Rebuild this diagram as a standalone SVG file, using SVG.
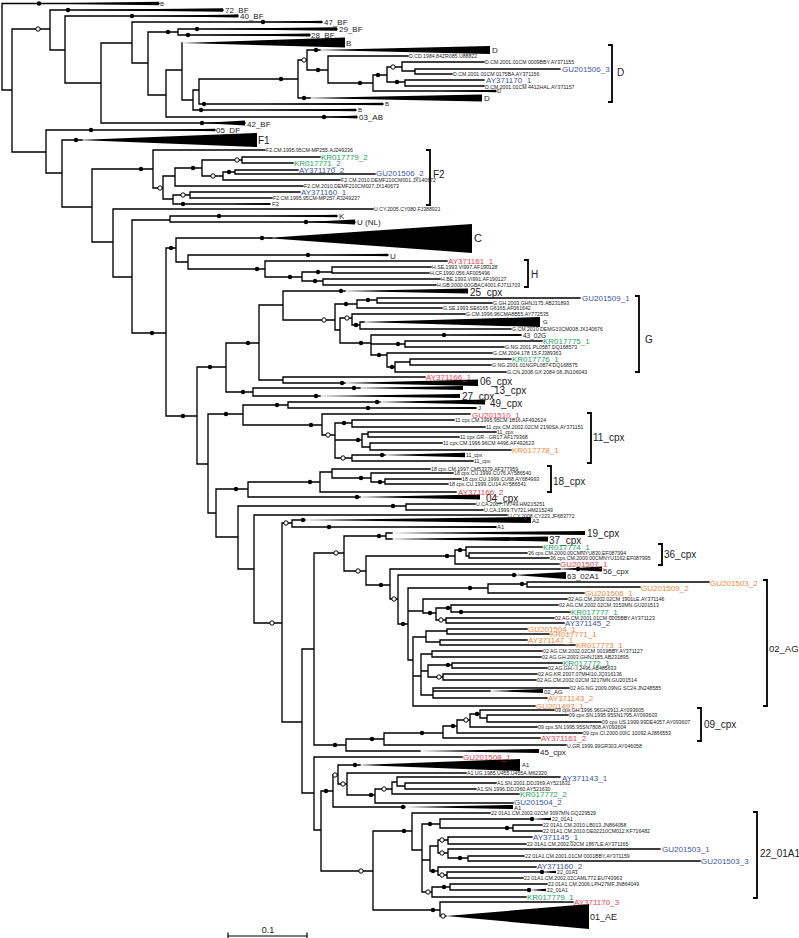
<svg xmlns="http://www.w3.org/2000/svg" width="799" height="938" viewBox="0 0 799 938">
<style>
text{font-family:"Liberation Sans",Arial,sans-serif;dominant-baseline:central;fill:#222}
.t{font-size:5.2px}
.x{font-size:6px}
.s{font-size:8px}
.m{font-size:10px}
.c{font-size:8px}
.b{fill:#3d55a8}.g{fill:#22a35b}.r{fill:#e8424e}.o{fill:#f0883a}
.ln{fill:none;stroke:#000;stroke-width:1.35;stroke-linecap:square}
.br{fill:none;stroke:#000;stroke-width:1.8}
.w{fill:#000}
.f{fill:#000}
.e{fill:#fff;stroke:#000;stroke-width:1}
.lab{opacity:0.999}
</style>
<rect width="799" height="938" fill="#fff"/>
<g id="connectors">
<path class="ln" d="M2 3.5V90M2 3.5H159M2 90H12
M12 29V152M12 29H50M12 152H46
M50 10V50M50 10H223M50 50H65
M65 16V83M65 16H238M65 83H101
M101 43V123M101 43H132M101 123H245
M132 22V63M132 22H322M132 63H148
M148 32V95M148 32H178M148 95H166
M178 29V35M178 29H337M178 35H310
M166 70V117M166 70H182M166 117H357
M182 43V100M182 100H193
M193 90V110M193 90H199M193 110H356
M199 79V104M199 79H298M199 104H383
M298 60V98M298 60H307M298 98H310
M307 50V70M307 50H320M307 70H328
M328 56V83M328 56H408M328 83H373
M373 75V91M373 75H387M373 91H496
M387 67V82M387 67H402M387 82H405
M402 62V71M402 62H484M402 71H415
M415 69V74M415 69H560M415 74H452
M405 80V86M405 80H484M405 86H484
M46 130V173M46 130H215M46 173H62
M62 140V207M62 140H82M62 207H92
M92 169V242M92 169H153M92 242H113
M153 150V188M153 150H265M153 188H163
M163 176V199M163 176H175M163 199H173
M175 168V186M175 168H202M175 186H303
M202 160V176M202 160H242M202 176H223
M242 157V163M242 157H320M242 163H293
M223 172V180M223 172H235M223 180H340
M235 170V174M235 170H298M235 174H375
M173 195V204M173 195H190M173 204H270
M190 192V198M190 192H300M190 198H272
M113 209V277M113 209H373M113 277H132
M132 220V333M132 220H170M132 333H166
M170 216V222M170 216H337M170 222H355
M166 248V416M166 248H176M166 416H197
M176 238V262M176 238H272M176 262H188
M188 255V269M188 255H388M188 269H265
M265 261V277M265 261H447M265 277H302
M302 272V281M302 272H332M302 281H323
M332 267V273M332 267H431M332 273H429
M323 279V285M323 279H440M323 285H436
M197 367V464M197 367H226M197 464H208
M226 343V392M226 343H259M226 392H253
M259 305V380M259 305H283M259 380H283
M283 291V320M283 291H345M283 320H335
M335 304V330M335 304H357M335 330H340
M357 300V308M357 300H377M357 308H442
M377 298V303M377 298H580M377 303H492
M340 318V343M340 318H352M340 343H371
M352 314V325M352 314H465M352 325H360
M360 322V329M360 322H364M360 329H511
M371 335V355M371 335H521M371 344H405M371 355H387
M405 341V347M405 341H542M405 347H504
M387 353V367M387 353H492M387 367H395
M395 362V372M395 362H410M395 372H506
M410 359V365M410 359H511M410 365H491
M283 377V383M283 377H425M283 383H345
M253 388V396M253 388H360M253 396H320
M208 414V513M208 414H243M208 513H216
M243 405V425M243 405H288M243 425H322
M288 402V408M288 402H380M288 408H476
M322 414V435M322 414H470M322 435H335
M335 423V458M335 423H352M335 440H362M335 458H352
M352 420V427M352 420H454M352 427H485
M362 434V447M362 434H368M362 447H370
M368 432V437M368 432H496M368 437H459
M370 443V450M370 443H442M370 450H511
M352 455V461M352 455H385M352 461H473
M216 489V537M216 489H248M216 537H238
M248 482V497M248 482H320M248 497H360
M320 472V492M320 472H332M320 492H456
M332 469V478M332 469H430M332 478H371
M371 473V482M371 473H453M371 482H385
M385 479V484M385 479H461M385 484H448
M238 506V569M238 506H406M238 569H254
M406 504V510M406 504H475M406 510H483
M254 515V623M254 515H507M254 623H282
M282 523V722M282 523H292M282 722H302
M292 520V527M292 520H305M292 527H496
M302 649V793M302 649H314M302 793H314
M314 553V745M314 553H344M314 745H346
M344 536V571M344 536H386M344 571H366
M386 533V539M386 533H392M386 539H392
M366 556V585M366 556H455M366 585H390
M455 550V564M455 550H466M455 564H559
M466 547V556M466 547H542M466 556H469
M469 553V558M469 553H527M469 558H549
M390 569V599M390 569H560M390 599H398
M398 575V624M398 575H516M398 624H408
M408 588V660M408 588H488M408 611H423M408 660H413
M488 584V593M488 584H527M488 593H584
M527 582V587M527 582H709M527 587H640
M423 599V613M423 599H567M423 613H436
M436 608V620M436 608H451M436 620H446
M451 605V612M451 605H558M451 612H570
M446 618V623M446 618H554M446 623H564
M413 637V706M413 637H426M413 676H421M413 706H535
M426 631V642M426 631H447M426 642H440
M447 629V634M447 629H527M447 634H549
M440 640V645M440 640H527M440 645H575
M421 654V695M421 654H432M421 671H428M421 695H433
M432 651V657M432 651H542M432 657H541
M428 665V677M428 665H452M428 677H443
M452 663V668M452 663H562M452 668H547
M443 674V680M443 674H537M443 680H536
M433 688V698M433 688H569M433 691H490M433 698H547
M346 739V751M346 739H384M346 751H420
M384 733V745M384 733H443M384 745H566
M443 726V738M443 726H457M443 738H540
M457 720V733M457 720H470M457 733H582
M470 714V727M470 714H480M470 727H537
M480 710V718M480 710H554M480 718H487
M487 715V722M487 715H568M487 722H601
M314 757V830M314 757H462M314 830H321
M321 791V871M321 791H333M321 871H373
M333 775V807M333 775H338M333 807H405
M338 765V784M338 765H360M338 784H347
M347 773V795M347 773H466M347 795H375
M375 789V803M375 789H392M375 803H513
M392 782V794M392 782H397M392 794H519
M397 777V786M397 777H560M397 786H405
M405 783V789M405 783H496M405 789H476
M373 831V910M373 831H412M373 910H440
M412 813V850M412 813H490M412 850H422
M422 824V892M422 824H440M422 860H430M422 892H432
M440 819V828M440 819H530M440 828H513
M513 825V831M513 825H542M513 831H542
M430 846V871M430 846H438M430 871H438
M438 840V853M438 840H448M438 853H448
M448 837V844M448 837H532M448 844H526
M448 849V858M448 849H660M448 858H468
M468 856V861M468 856H524M468 861H700
M438 867V875M438 867H536M438 875H447
M447 872V878M447 872H540M447 878H523
M432 887V897M432 887H450M432 897H526
M450 884V890M450 884H547M450 890H530
M440 902V916M440 902H573M440 916H446"/>
<g class="w">
<polygon points="40,3.5 159,1.8 159,5.2"/>
<polygon points="70,10 223,8.3 223,11.7"/>
<polygon points="140,16 238,14.5 238,17.5"/>
<polygon points="265,22 322,20.8 322,23.2"/>
<polygon points="200,29 337,27.2 337,30.8"/>
<polygon points="190,35 310,33.5 310,36.5"/>
<polygon points="182,43 345,37.5 345,47.5"/>
<polygon points="316,50 490,46 490,54"/>
<polygon points="440,91 496,89.8 496,92.2"/>
<polygon points="304,98 482,94.5 482,101.5"/>
<polygon points="260,104 383,102.8 383,105.2"/>
<polygon points="250,110 356,108.8 356,111.2"/>
<polygon points="324,117 357,115.5 357,118.5"/>
<polygon points="202,123 245,120.5 245,125.5"/>
<polygon points="150,130 215,128.8 215,131.2"/>
<polygon points="78,140 257,133 257,147"/>
<polygon points="230,204 270,203 270,205"/>
<polygon points="260,216 337,214.8 337,217.2"/>
<polygon points="306,222 355,219.5 355,224.5"/>
<polygon points="266,238 472,224 472,253"/>
<polygon points="320,255 388,253.8 388,256.2"/>
<polygon points="341,291 468,288.5 468,293.5"/>
<polygon points="360,322 540,317 540,327"/>
<polygon points="450,335 521,334 521,336"/>
<polygon points="342,383 478,379.5 478,386"/>
<polygon points="354,388 463,386 463,390"/>
<polygon points="316,396 460,394 460,398"/>
<polygon points="377,402 485,399.5 485,404.5"/>
<polygon points="400,408 476,407 476,409"/>
<polygon points="382,455 465,452.8 465,457.2"/>
<polygon points="357,497 480,494.5 480,499.5"/>
<polygon points="303,520 531,517 531,523"/>
<polygon points="400,527 496,526 496,528"/>
<polygon points="390,533 585,531 585,535"/>
<polygon points="390,539 548,536.5 548,541.5"/>
<polygon points="557,569 602,566.5 602,571.5"/>
<polygon points="514,575 566,572 566,579"/>
<polygon points="490,691 543,689 543,693"/>
<polygon points="420,751 539,749 539,753"/>
<polygon points="358,765 520,759 520,771"/>
<polygon points="405,807 513,805 513,809"/>
<polygon points="530,819 551,817.8 551,820.2"/>
<polygon points="540,872 556,870.8 556,873.2"/>
<polygon points="530,890 546,888.8 546,891.2"/>
<polygon points="446,916 589,904 589,929"/>
</g>
<g id="support-filled" class="f">
<circle cx="39" cy="3.5" r="2.2"/><circle cx="68" cy="10" r="2.2"/><circle cx="132" cy="16" r="2.2"/><circle cx="263" cy="22" r="2.2"/><circle cx="168" cy="32" r="2.2"/><circle cx="197" cy="29" r="2.2"/><circle cx="188" cy="35" r="2.2"/><circle cx="202" cy="123" r="2.2"/><circle cx="324" cy="117" r="2.2"/><circle cx="201" cy="110" r="2.2"/><circle cx="204" cy="104" r="2.2"/><circle cx="281" cy="79" r="2.2"/><circle cx="304" cy="98" r="2.2"/><circle cx="316" cy="50" r="2.2"/><circle cx="318" cy="70" r="2.2"/><circle cx="360" cy="83" r="2.2"/><circle cx="378" cy="75" r="2.2"/><circle cx="397" cy="82" r="2.2"/>
<circle cx="91" cy="130" r="2.2"/><circle cx="76" cy="140" r="2.2"/><circle cx="141" cy="169" r="2.2"/><circle cx="193" cy="168" r="2.2"/><circle cx="229" cy="172" r="2.2"/><circle cx="183" cy="204" r="2.2"/><circle cx="219" cy="216" r="2.2"/><circle cx="306" cy="222" r="2.2"/><circle cx="152" cy="333" r="2.2"/><circle cx="171" cy="248" r="2.2"/><circle cx="183" cy="416" r="2.2"/><circle cx="262" cy="238" r="2.2"/><circle cx="308" cy="255" r="2.2"/><circle cx="257" cy="269" r="2.2"/><circle cx="290" cy="277" r="2.2"/><circle cx="318" cy="272" r="2.2"/><circle cx="315" cy="281" r="2.2"/>
<circle cx="210" cy="367" r="2.2"/><circle cx="248" cy="343" r="2.2"/><circle cx="243" cy="392" r="2.2"/><circle cx="341" cy="291" r="2.2"/><circle cx="346" cy="304" r="2.2"/><circle cx="368" cy="300" r="2.2"/><circle cx="356" cy="325" r="2.2"/><circle cx="361" cy="343" r="2.2"/><circle cx="444" cy="335" r="2.2"/><circle cx="398" cy="344" r="2.2"/><circle cx="379" cy="355" r="2.2"/><circle cx="392" cy="367" r="2.2"/><circle cx="342" cy="383" r="2.2"/><circle cx="354" cy="388" r="2.2"/><circle cx="316" cy="396" r="2.2"/>
<circle cx="226" cy="414" r="2.2"/><circle cx="277" cy="405" r="2.2"/><circle cx="311" cy="425" r="2.2"/><circle cx="377" cy="402" r="2.2"/><circle cx="368" cy="408" r="2.2"/><circle cx="344" cy="423" r="2.2"/><circle cx="358" cy="440" r="2.2"/><circle cx="382" cy="455" r="2.2"/><circle cx="236" cy="489" r="2.2"/><circle cx="310" cy="482" r="2.2"/><circle cx="357" cy="497" r="2.2"/><circle cx="361" cy="478" r="2.2"/><circle cx="380" cy="482" r="2.2"/><circle cx="393" cy="506" r="2.2"/><circle cx="303" cy="520" r="2.2"/><circle cx="329" cy="527" r="2.2"/>
<circle cx="379" cy="536" r="2.2"/><circle cx="447" cy="556" r="2.2"/><circle cx="460" cy="550" r="2.2"/><circle cx="381" cy="585" r="2.2"/><circle cx="578" cy="569" r="2.2"/><circle cx="514" cy="575" r="2.2"/><circle cx="403" cy="624" r="2.2"/><circle cx="470" cy="588" r="2.2"/><circle cx="522" cy="584" r="2.2"/><circle cx="430" cy="613" r="2.2"/><circle cx="448" cy="608" r="2.2"/><circle cx="461" cy="612" r="2.2"/><circle cx="448" cy="665" r="2.2"/>
<circle cx="335" cy="745" r="2.2"/><circle cx="372" cy="739" r="2.2"/><circle cx="422" cy="733" r="2.2"/><circle cx="453" cy="726" r="2.2"/><circle cx="477" cy="714" r="2.2"/><circle cx="326" cy="791" r="2.2"/><circle cx="403" cy="807" r="2.2"/><circle cx="355" cy="765" r="2.2"/><circle cx="371" cy="795" r="2.2"/><circle cx="404" cy="831" r="2.2"/><circle cx="433" cy="910" r="2.2"/><circle cx="430" cy="824" r="2.2"/><circle cx="532" cy="819" r="2.2"/><circle cx="507" cy="828" r="2.2"/><circle cx="460" cy="858" r="2.2"/><circle cx="433" cy="871" r="2.2"/><circle cx="542" cy="872" r="2.2"/><circle cx="444" cy="887" r="2.2"/><circle cx="529" cy="890" r="2.2"/>
</g>
<g id="support-open" class="e">
<circle cx="38" cy="29" r="2.2"/><circle cx="304" cy="60" r="2.2"/><circle cx="393" cy="67" r="2.2"/><circle cx="160" cy="188" r="2.2"/><circle cx="237" cy="160" r="2.2"/><circle cx="213" cy="176" r="2.2"/><circle cx="183" cy="195" r="2.2"/><circle cx="324" cy="320" r="2.2"/><circle cx="347" cy="318" r="2.2"/><circle cx="328" cy="435" r="2.2"/><circle cx="343" cy="458" r="2.2"/><circle cx="272" cy="623" r="2.2"/><circle cx="286" cy="523" r="2.2"/><circle cx="336" cy="553" r="2.2"/><circle cx="358" cy="571" r="2.2"/><circle cx="394" cy="599" r="2.2"/><circle cx="441" cy="620" r="2.2"/><circle cx="439" cy="677" r="2.2"/><circle cx="466" cy="720" r="2.2"/><circle cx="361" cy="871" r="2.2"/><circle cx="335" cy="775" r="2.2"/><circle cx="343" cy="784" r="2.2"/><circle cx="384" cy="789" r="2.2"/><circle cx="428" cy="892" r="2.2"/><circle cx="442" cy="840" r="2.2"/><circle cx="442" cy="853" r="2.2"/><circle cx="442" cy="875" r="2.2"/><circle cx="443" cy="916" r="2.2"/>
</g>
<path class="br" d="M608 45H612V102H608M426 150H430V205H426M524 260H528V287H524M635 296H639V372H635M587 413H591V463H587M547 466H551V492H547M658 544H662V565H658M763 580H767V706H763M697 708H701V741H697M753 812H757V898H753"/>
</g>
<g class="lab">
<g id="clade-BF">
<text class="x" x="160" y="4">B</text>
<text class="s" x="225" y="10">72_BF</text>
<text class="s" x="240" y="16">40_BF</text>
<text class="s" x="324" y="22">47_BF</text>
<text class="s" x="339" y="29">29_BF</text>
<text class="s" x="311" y="35">28_BF</text>
<text class="s" x="346" y="43">B</text>
<text class="x" x="385" y="104">B</text>
<text class="x" x="358" y="110">B</text>
<text class="s" x="359" y="117">03_AB</text>
<text class="s" x="247" y="124">42_BF</text>
<text class="s" x="216" y="130">05_DF</text>
</g>
<g id="clade-D">
<text class="s" x="492" y="50">D</text>
<text class="t" x="409" y="56">D.CD.1984.84ZR085.U88822</text>
<text class="t" x="485" y="62">D.CM.2001.01CM 0009BBY.AY371155</text>
<text class="c b" x="562" y="69">GU201506_3</text>
<text class="t" x="453" y="74">D.CM.2001.01CM 0175BA.AY371156</text>
<text class="c b" x="486" y="80">AY371170_1</text>
<text class="t" x="485" y="87">D.CM.2001.01CM 4412HAL.AY371157</text>
<text class="x" x="497" y="91">D</text>
<text class="s" x="484" y="98">D</text>
<text class="m" x="617" y="72">D</text>
</g>
<g id="clade-F">
<text class="m" x="258" y="140">F1</text>
<text class="t" x="266" y="150">F2.CM.1995.95CM-MP255.AJ249236</text>
<text class="c g" x="321" y="157">KR017779_2</text>
<text class="c g" x="294" y="163">KR017771_2</text>
<text class="c b" x="299" y="170">AY371170_2</text>
<text class="c b" x="376" y="173">GU201506_2</text>
<text class="t" x="341" y="180">F2.CM.2010.DEMF210CM001.JX140672</text>
<text class="t" x="304" y="186">F2.CM.2010.DEMF210CM007.JX140673</text>
<text class="c b" x="301" y="192">AY371160_1</text>
<text class="t" x="273" y="198">F2.CM.1995.95CM-MP257.AJ249237</text>
<text class="x" x="272" y="204">F2</text>
<text class="m" x="433" y="174">F2</text>
</g>
<g id="clade-KUC">
<text class="t" x="374" y="209">U.CY.2005.CY080.FJ388921</text>
<text class="s" x="339" y="216">K</text>
<text class="s" x="357" y="222">U (NL)</text>
<text class="m" x="474" y="238" style="font-size:11px">C</text>
<text class="s" x="390" y="256">U</text>
</g>
<g id="clade-H">
<text class="c r" x="448" y="261">AY371161_1</text>
<text class="t" x="432" y="267">H.SE.1993.VI997.AF190128</text>
<text class="t" x="430" y="273">H.CF.1990.056.AF005496</text>
<text class="t" x="441" y="279">H.BE.1993.VI991.AF190127</text>
<text class="t" x="437" y="285">H.GB.2000.00GBAC4001.FJ711703</text>
<text class="m" x="531" y="274">H</text>
<text class="m" x="470" y="292">25_cpx</text>
</g>
<g id="clade-G">
<text class="c b" x="582" y="298">GU201509_1</text>
<text class="t" x="493" y="303">G.GH.2003.GHNJ175.AB231893</text>
<text class="t" x="443" y="308">G.SE.1993.SE6165 G6165.AF061642</text>
<text class="t" x="466" y="314">G.CM.1996.96CMA8B55.AY772535</text>
<text class="x" x="543" y="322">G</text>
<text class="t" x="512" y="329">G.CM.2010.DEMG10CM008.JX140676</text>
<text class="x" x="523" y="335" style="font-size:6.5px">43_02G</text>
<text class="c g" x="543" y="341">KR017775_1</text>
<text class="t" x="505" y="347">G.NG.2001.PL0587.DQ168573</text>
<text class="t" x="493" y="353">G.CM.2004.178 15.FJ389363</text>
<text class="c g" x="512" y="359">KR017776_1</text>
<text class="t" x="492" y="365">G.NG.2001.01NGPL0874.DQ168575</text>
<text class="t" x="507" y="372">G.CN.2008.GX 2084 08.JN106043</text>
<text class="m" x="645" y="339">G</text>
</g>
<g id="clade-cpx1">
<text class="c r" x="426" y="377">AY371166_1</text>
<text class="m" x="480" y="381">06_cpx</text>
<text class="m" x="494" y="390">13_cpx</text>
<text class="m" x="462" y="396">27_cpx</text>
<text class="m" x="490" y="403">49_cpx</text>
<text class="x" x="478" y="408">J</text>
</g>
<g id="clade-11cpx">
<text class="c r" x="472" y="415">GU201510_1</text>
<text class="t" x="455" y="420">11 cpx.CM.1995.95CM 1816.AF492624</text>
<text class="t" x="486" y="427">11 cpx.CM.2002.02CM 2190SA.AY371151</text>
<text class="t" x="497" y="432">11_cpx</text>
<text class="t" x="460" y="437">11 cpx.GR.-.GR17.AF179368</text>
<text class="t" x="443" y="443">11 cpx.CM.1996.96CM 4496.AF492623</text>
<text class="c o" x="512" y="450">KR017778_1</text>
<text class="t" x="466" y="455">11_cpx</text>
<text class="t" x="474" y="461">11_cpx</text>
<text class="m" x="593" y="437">11_cpx</text>
</g>
<g id="clade-18cpx">
<text class="t" x="431" y="469">18 cpx.CM.1997.CM53379.AF377959</text>
<text class="t" x="454" y="473">18 cpx.CU.1999.CU76.AY586540</text>
<text class="t" x="462" y="479">18 cpx.CU.1999.CU68.AY684993</text>
<text class="t" x="449" y="484">18 cpx.CU.1999.CU14.AY586541</text>
<text class="c r" x="458" y="492">AY371166_2</text>
<text class="m" x="486" y="498">04_cpx</text>
<text class="m" x="553" y="481">18_cpx</text>
</g>
<g id="clade-UA">
<text class="t" x="476" y="504">U.CA.2007.TV749.HM215251</text>
<text class="t" x="484" y="510">U.CA.1999.TV721.HM215249</text>
<text class="t" x="508" y="516">U.CY.2008.CY223.JF683772</text>
<text class="x" x="532" y="521">A2</text>
<text class="x" x="497" y="527">A1</text>
<text class="m" x="587" y="533">19_cpx</text>
<text class="m" x="549" y="540">37_cpx</text>
</g>
<g id="clade-36cpx">
<text class="c g" x="543" y="547">KR017774_1</text>
<text class="t" x="528" y="553">36 cpx.CM.2000.00CMNYU830.EF087994</text>
<text class="t" x="550" y="558">36 cpx.CM.2000.00CMNYU1162.EF087995</text>
<text class="c r" x="560" y="564">GU201507_1</text>
<text class="m" x="664" y="554">36_cpx</text>
<text class="s" x="603" y="571">56_cpx</text>
<text class="s" x="567" y="576">63_02A1</text>
</g>
<g id="clade-02AG">
<text class="c o" x="710" y="583">GU201503_2</text>
<text class="c o" x="641" y="588">GU201509_2</text>
<text class="c o" x="585" y="593">GU201506_1</text>
<text class="t" x="568" y="599">02 AG.CM.2002.02CM 1901LE.AY371146</text>
<text class="t" x="559" y="605">02 AG.CM.2002.02CM 3153MN.GU201513</text>
<text class="c g" x="571" y="612">KR017777_1</text>
<text class="t" x="555" y="618">02 AG.CM.2001.01CM 0005BBY.AY371123</text>
<text class="c b" x="565" y="623">AY371145_2</text>
<text class="c o" x="528" y="629">GU201504_1</text>
<text class="c o" x="550" y="634">KR017771_1</text>
<text class="c o" x="528" y="640">AY371147_1</text>
<text class="c o" x="576" y="645">KR017773_1</text>
<text class="t" x="543" y="651">02 AG.CM.2002.02CM 0019BBY.AY371127</text>
<text class="t" x="542" y="657">02 AG.GH.2003.GHNJ185.AB231895</text>
<text class="c g" x="563" y="663">KR017772_1</text>
<text class="t" x="548" y="668">02 AG.GH.-.I 2496.AB485633</text>
<text class="t" x="538" y="674">02 AG.KR.2007.07MHI10.JQ316136</text>
<text class="t" x="537" y="680">02 AG.CM.2002.02CM 3217MN.GU201514</text>
<text class="t" x="570" y="688">02 AG.NG.2009.09NG SC24.JN248585</text>
<text class="x" x="544" y="692">02_AG</text>
<text class="c o" x="548" y="698">AY371143_2</text>
<text class="c o" x="536" y="706">GU201497_1</text>
<text class="m" x="769" y="648" style="font-size:9.5px">02_AG</text>
</g>
<g id="clade-09cpx">
<text class="t" x="555" y="710">09 cpx.GH.1996.96GH2911.AY093605</text>
<text class="t" x="569" y="715">09 cpx.SN.1995.95SN1795.AY093603</text>
<text class="t" x="602" y="722">09 cpx.US.1999.99DE4057.AY093607</text>
<text class="t" x="538" y="727">09 cpx.SN.1995.95SN7808.AY093604</text>
<text class="t" x="583" y="733">09 cpx.CI.2000.00IC 10092.AJ866553</text>
<text class="c r" x="541" y="738">AY371161_2</text>
<text class="t" x="567" y="746">U.GR.1999.99GR303.AY046058</text>
<text class="m" x="704" y="724">09_cpx</text>
<text class="s" x="540" y="752">45_cpx</text>
</g>
<g id="clade-A1">
<text class="c r" x="463" y="757">GU201508_1</text>
<text class="x" x="522" y="765">A1</text>
<text class="t" x="467" y="773">A1.UG.1985.U455.U455A.M62320</text>
<text class="c b" x="562" y="778">AY371143_1</text>
<text class="t" x="497" y="783">A1.SN.2001.DDJ369.AY521631</text>
<text class="t" x="477" y="789">A1.SN.1996.DDJ360.AY521630</text>
<text class="c g" x="520" y="794">KR017772_2</text>
<text class="c b" x="514" y="802">GU201504_2</text>
<text class="x" x="514" y="808">A1</text>
</g>
<g id="clade-22_01A1">
<text class="t" x="491" y="813">22 01A1.CM.2002.02CM 3097MN.GQ229529</text>
<text class="t" x="552" y="819">22_01A1</text>
<text class="t" x="543" y="825">22 01A1.CM.2010.LB013.JN864058</text>
<text class="t" x="543" y="831">22 01A1.CM.2010.DE02210CM012.KF716482</text>
<text class="c b" x="533" y="837">AY371145_1</text>
<text class="t" x="527" y="844">22 01A1.CM.2002.02CM 1867LE.AY371165</text>
<text class="c b" x="662" y="849">GU201503_1</text>
<text class="t" x="525" y="856">22 01A1.CM.2001.01CM 0001BBY.AY371159</text>
<text class="c b" x="701" y="861">GU201503_3</text>
<text class="c b" x="537" y="866">AY371160_2</text>
<text class="t" x="557" y="872">22_01A1</text>
<text class="t" x="524" y="878">22 01A1.CM.2002.02CAML772.EU743963</text>
<text class="t" x="548" y="884">22 01A1.CM.2006.LPH27MF.JN864049</text>
<text class="t" x="547" y="890">22_01A1</text>
<text class="c g" x="527" y="897">KR017779_1</text>
<text class="m" x="760" y="853">22_01A1</text>
</g>
<g id="clade-01AE">
<text class="c r" x="574" y="902">AY371170_3</text>
<text class="m" x="590" y="917" style="font-size:9px">01_AE</text>
</g>
<g id="scale-bar">
<path class="ln" d="M228 936H307M228 933V938M307 933V938" style="stroke-width:1.2"/>
<text x="268" y="930" style="font-size:9px;text-anchor:middle">0.1</text>
</g>
</g>
</svg>
